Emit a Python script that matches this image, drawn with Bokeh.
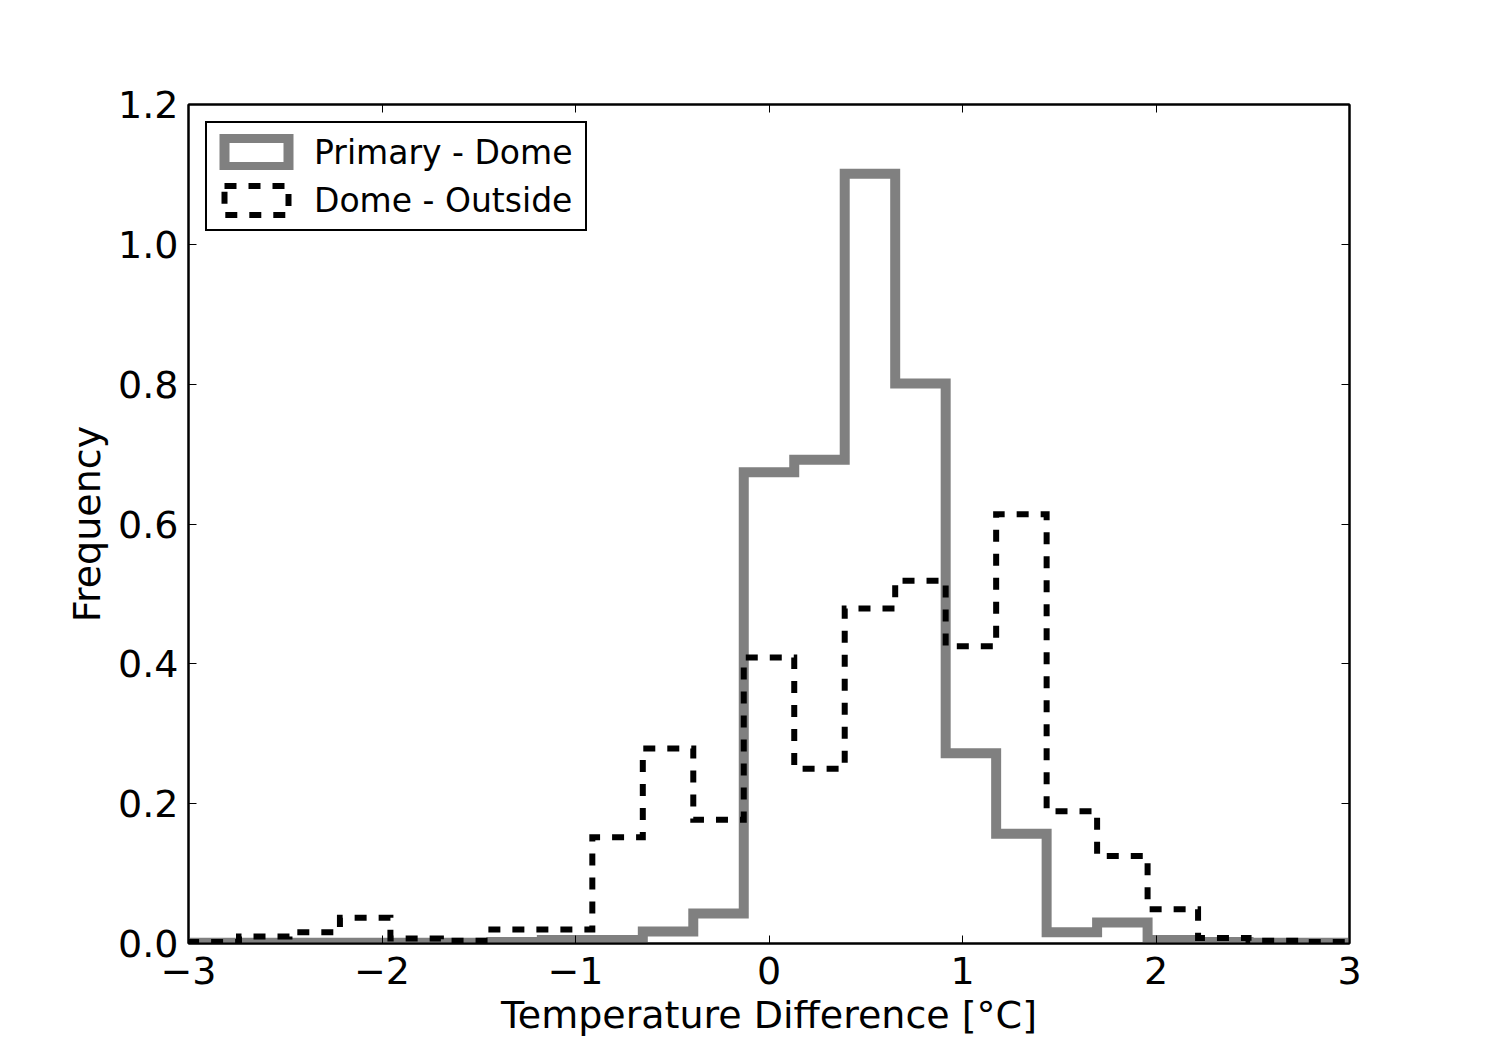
import numpy as np
from bokeh.plotting import figure
from bokeh.models import (Range1d, FixedTicker, LinearAxis, Legend, LegendItem,
                          CustomJSTickFormatter)
from bokeh.embed import file_html
from bokeh.resources import INLINE

# ---- data ----
bin_edges = np.linspace(-3.0, 3.0, 24)
primary_dome = [0.001, 0.001, 0.001, 0.001, 0.001, 0.001, 0.002, 0.005, 0.005,
                0.017, 0.043, 0.674, 0.692, 1.101, 0.801, 0.272, 0.157, 0.016,
                0.030, 0.005, 0.002, 0.001, 0.001]
dome_outside = [0.002, 0.010, 0.016, 0.037, 0.007, 0.004, 0.020, 0.020, 0.152,
                0.279, 0.177, 0.409, 0.250, 0.479, 0.519, 0.425, 0.614, 0.189,
                0.125, 0.049, 0.008, 0.004, 0.002]
x_ticks = [-3, -2, -1, 0, 1, 2, 3]
y_ticks = [0.0, 0.2, 0.4, 0.6, 0.8, 1.0, 1.2]
series_labels = ["Primary - Dome", "Dome - Outside"]


def step_outline(edges, counts):
    xs = np.repeat(edges, 2)
    ys = np.concatenate([[0.0], np.repeat(np.asarray(counts, float), 2), [0.0]])
    return xs, ys


FONT = "DejaVu Sans"
FS = "38px"
LFS = "33px"

p = figure(width=1500, height=1050, output_backend="svg", toolbar_location=None,
           x_range=Range1d(-3, 3), y_range=Range1d(0, 1.2),
           min_border_left=188, min_border_right=151,
           min_border_top=104, min_border_bottom=107,
           x_axis_label="Temperature Difference [°C]", y_axis_label="Frequency")
p.grid.visible = False
p.background_fill_color = "white"
p.border_fill_color = "white"
p.outline_line_color = "black"
p.outline_line_width = 2

gx, gy = step_outline(bin_edges, primary_dome)
dx, dy = step_outline(bin_edges, dome_outside)
p.line(gx, gy, line_color="#808080", line_width=10, line_join="miter")
p.line(dx, dy, line_color="black", line_width=6, line_dash="12 12", line_join="miter")

# legend proxies (rectangle patches like matplotlib step-histogram legend); NaN => not drawn in plot
nan = [float("nan")]
r1 = p.quad(left=nan, right=nan, top=nan, bottom=nan, fill_alpha=0, line_color="#808080",
            line_width=10, line_join="miter")
r2 = p.quad(left=nan, right=nan, top=nan, bottom=nan, fill_alpha=0, line_color="black",
            line_width=6, line_dash="12 12", line_join="miter")
legend = Legend(items=[LegendItem(label=series_labels[0], renderers=[r1]),
                       LegendItem(label=series_labels[1], renderers=[r2])],
                location="top_left", margin=17, padding=9, spacing=8,
                glyph_width=80, glyph_height=36, label_height=40, label_width=262,
                label_standoff=18,
                label_text_font=FONT, label_text_font_size=LFS, label_text_color="black",
                border_line_color="black", border_line_width=2, border_line_alpha=1.0,
                background_fill_alpha=1.0)
p.add_layout(legend)

minus_map = {t: str(t).replace("-", "\u2212") for t in x_ticks}
ylab_map = {t: f"{t:.1f}" for t in y_ticks}

for ax in (p.xaxis[0], p.yaxis[0]):
    ax.axis_line_width = 2
    ax.axis_line_color = "black"
    ax.major_tick_in = 8
    ax.major_tick_out = 0
    ax.major_tick_line_width = 1
    ax.major_tick_line_color = "black"
    ax.minor_tick_line_color = None
    ax.major_label_text_font = FONT
    ax.major_label_text_font_size = FS
    ax.major_label_text_color = "black"
    ax.axis_label_text_font = FONT
    ax.axis_label_text_font_size = FS
    ax.axis_label_text_font_style = "normal"
    ax.axis_label_text_color = "black"

p.xaxis[0].ticker = FixedTicker(ticks=x_ticks)
p.xaxis[0].major_label_overrides = minus_map
p.xaxis[0].major_label_standoff = 13
p.xaxis[0].axis_label_standoff = 6
p.yaxis[0].ticker = FixedTicker(ticks=y_ticks)
p.yaxis[0].major_label_overrides = ylab_map
p.yaxis[0].major_label_standoff = 10
p.yaxis[0].axis_label_standoff = 6

top = LinearAxis(ticker=FixedTicker(ticks=x_ticks), formatter=CustomJSTickFormatter(code="return ''"),
                 major_tick_in=8, major_tick_out=0, minor_tick_line_color=None,
                 major_tick_line_color="black", axis_line_width=2, axis_line_color="black")
right = LinearAxis(ticker=FixedTicker(ticks=y_ticks), formatter=CustomJSTickFormatter(code="return ''"),
                   major_tick_in=8, major_tick_out=0, minor_tick_line_color=None,
                   major_tick_line_color="black", axis_line_width=2, axis_line_color="black")
p.add_layout(top, "above")
p.add_layout(right, "right")

open("out.html", "w").write(file_html(p, INLINE))
